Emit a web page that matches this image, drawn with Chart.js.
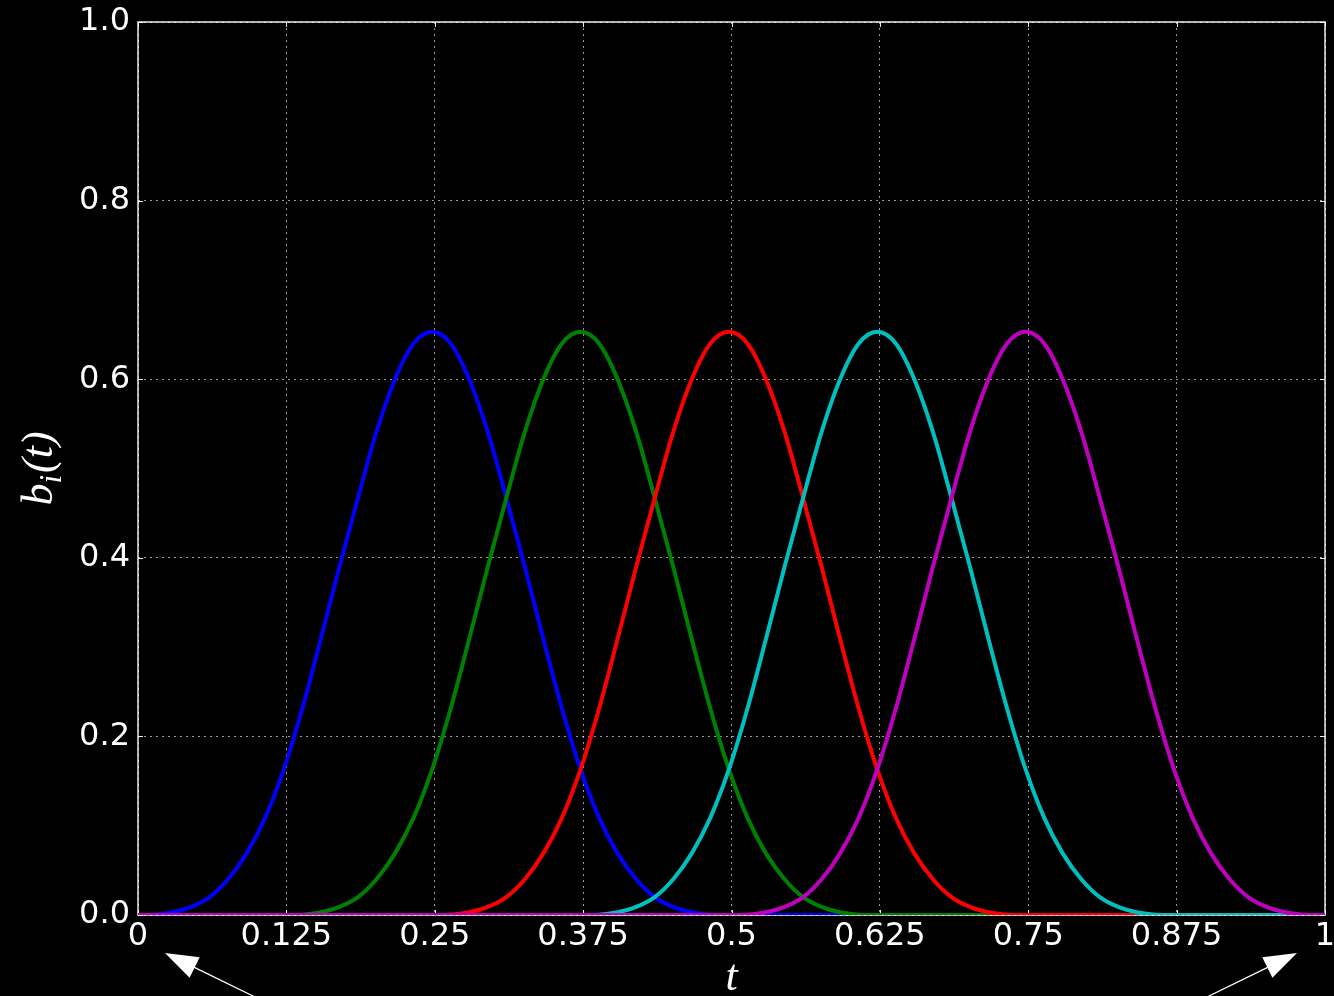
<!DOCTYPE html>
<html>
<head>
<meta charset="utf-8">
<title>B-spline basis functions</title>
<script src="https://cdn.jsdelivr.net/npm/chart.js@4/dist/chart.umd.min.js"></script>
<style>
  html, body { margin: 0; padding: 0; background: #000; overflow: hidden; }
  #wrap { width: 1334px; height: 996px; position: relative; }
</style>
</head>
<body>
<div id="wrap"><canvas id="chart"></canvas></div>
<script>
// Sample positions of the parameter t
const tValues = [
  0, 0.0134, 0.0290, 0.0447, 0.0603, 0.0759, 0.0915, 0.1072,
  0.1228, 0.1384, 0.1540, 0.1697, 0.1853, 0.2009, 0.2165, 0.2322,
  0.2478, 0.2634, 0.2790, 0.2947, 0.3103, 0.3259, 0.3415, 0.3572,
  0.3728, 0.3884, 0.4040, 0.4197, 0.4353, 0.4509, 0.4665, 0.4822,
  0.4978, 0.5134, 0.5290, 0.5447, 0.5603, 0.5759, 0.5915, 0.6072,
  0.6228, 0.6384, 0.6540, 0.6697, 0.6853, 0.7009, 0.7165, 0.7322,
  0.7478, 0.7634, 0.7790, 0.7947, 0.8103, 0.8259, 0.8415, 0.8572,
  0.8728, 0.8884, 0.9040, 0.9197, 0.9353, 0.9509, 0.9665, 0.9822,
  0.9978, 1
];

// Basis function values b_i(t), one array per basis function
const b0 = [
  0, 0.0003, 0.003, 0.009, 0.020, 0.040, 0.069, 0.109,
  0.163, 0.231, 0.309, 0.390, 0.467, 0.541, 0.600, 0.640,
  0.653, 0.640, 0.600, 0.541, 0.467, 0.390, 0.309, 0.231,
  0.163, 0.109, 0.069, 0.040, 0.020, 0.009, 0.003, 0.0003,
  0, 0, 0, 0, 0, 0, 0, 0,
  0, 0, 0, 0, 0, 0, 0, 0,
  0, 0, 0, 0, 0, 0, 0, 0,
  0, 0, 0, 0, 0, 0, 0, 0,
  0, 0
];
const b1 = [
  0, 0, 0, 0, 0, 0, 0, 0,
  0, 0.0003, 0.003, 0.009, 0.020, 0.040, 0.069, 0.109,
  0.163, 0.231, 0.309, 0.390, 0.467, 0.541, 0.600, 0.640,
  0.653, 0.640, 0.600, 0.541, 0.467, 0.390, 0.309, 0.231,
  0.163, 0.109, 0.069, 0.040, 0.020, 0.009, 0.003, 0.0003,
  0, 0, 0, 0, 0, 0, 0, 0,
  0, 0, 0, 0, 0, 0, 0, 0,
  0, 0, 0, 0, 0, 0, 0, 0,
  0, 0
];
const b2 = [
  0, 0, 0, 0, 0, 0, 0, 0,
  0, 0, 0, 0, 0, 0, 0, 0,
  0, 0.0003, 0.003, 0.009, 0.020, 0.040, 0.069, 0.109,
  0.163, 0.231, 0.309, 0.390, 0.467, 0.541, 0.600, 0.640,
  0.653, 0.640, 0.600, 0.541, 0.467, 0.390, 0.309, 0.231,
  0.163, 0.109, 0.069, 0.040, 0.020, 0.009, 0.003, 0.0003,
  0, 0, 0, 0, 0, 0, 0, 0,
  0, 0, 0, 0, 0, 0, 0, 0,
  0, 0
];
const b3 = [
  0, 0, 0, 0, 0, 0, 0, 0,
  0, 0, 0, 0, 0, 0, 0, 0,
  0, 0, 0, 0, 0, 0, 0, 0,
  0, 0.0003, 0.003, 0.009, 0.020, 0.040, 0.069, 0.109,
  0.163, 0.231, 0.309, 0.390, 0.467, 0.541, 0.600, 0.640,
  0.653, 0.640, 0.600, 0.541, 0.467, 0.390, 0.309, 0.231,
  0.163, 0.109, 0.069, 0.040, 0.020, 0.009, 0.003, 0.0003,
  0, 0, 0, 0, 0, 0, 0, 0,
  0, 0
];
const b4 = [
  0, 0, 0, 0, 0, 0, 0, 0,
  0, 0, 0, 0, 0, 0, 0, 0,
  0, 0, 0, 0, 0, 0, 0, 0,
  0, 0, 0, 0, 0, 0, 0, 0,
  0, 0.0003, 0.003, 0.009, 0.020, 0.040, 0.069, 0.109,
  0.163, 0.231, 0.309, 0.390, 0.467, 0.541, 0.600, 0.640,
  0.653, 0.640, 0.600, 0.541, 0.467, 0.390, 0.309, 0.231,
  0.163, 0.109, 0.069, 0.040, 0.020, 0.009, 0.003, 0.0003,
  0, 0
];

const seriesValues = [b0, b1, b2, b3, b4];
const seriesColors = ['#0000ff', '#008000', '#ff0000', '#00bfbf', '#bf00bf'];

// Axis ticks
const xTicks = [0, 0.125, 0.25, 0.375, 0.5, 0.625, 0.75, 0.875, 1];
const xTickLabels = ['0', '0.125', '0.25', '0.375', '0.5', '0.625', '0.75', '0.875', '1'];
const yTicks = [0, 0.2, 0.4, 0.6, 0.8, 1.0];
const yTickLabels = ['0.0', '0.2', '0.4', '0.6', '0.8', '1.0'];

const tickFont = { family: "'DejaVu Sans', sans-serif", size: 32 };
const mathFont = "italic 44px 'Liberation Serif', 'DejaVu Serif', serif";
const mathSubFont = "italic 31px 'Liberation Serif', 'DejaVu Serif', serif";

const datasets = seriesValues.map((vals, i) => ({
  label: 'b' + i,
  data: tValues.map((t, k) => ({ x: t, y: vals[k] })),
  borderColor: seriesColors[i],
  borderWidth: 4,
  pointRadius: 0,
  fill: false,
  cubicInterpolationMode: 'monotone',
  order: seriesValues.length - 1 - i   // later basis functions drawn on top
}));

function zeroPadding(scale) {
  scale.paddingLeft = 0;
  scale.paddingRight = 0;
  scale.paddingTop = 0;
  scale.paddingBottom = 0;
}

// Frame, inward tick marks, axis titles and the two annotation arrows
const decorations = {
  id: 'decorations',
  beforeDraw(chart) {
    const ctx = chart.ctx;
    ctx.save();
    ctx.fillStyle = '#000';
    ctx.fillRect(0, 0, chart.width, chart.height);
    ctx.restore();
  },
  beforeDatasetsDraw(chart) {
    const { ctx, chartArea: a, scales } = chart;
    ctx.save();
    ctx.strokeStyle = 'rgba(255,255,255,0.92)';
    ctx.lineWidth = 1.5;
    ctx.strokeRect(a.left, a.top, a.right - a.left, a.bottom - a.top);
    // inward ticks on all four sides
    ctx.lineWidth = 1;
    const len = 5;
    ctx.beginPath();
    xTicks.forEach(v => {
      const x = Math.round(scales.x.getPixelForValue(v)) + 0.5;
      ctx.moveTo(x, a.bottom); ctx.lineTo(x, a.bottom - len);
      ctx.moveTo(x, a.top); ctx.lineTo(x, a.top + len);
    });
    yTicks.forEach(v => {
      const y = Math.round(scales.y.getPixelForValue(v)) + 0.5;
      ctx.moveTo(a.left, y); ctx.lineTo(a.left + len, y);
      ctx.moveTo(a.right, y); ctx.lineTo(a.right - len, y);
    });
    ctx.stroke();
    ctx.restore();
  },
  afterDraw(chart) {
    const { ctx, chartArea: a } = chart;
    ctx.save();
    ctx.fillStyle = '#fff';

    // x axis title
    ctx.font = mathFont;
    ctx.textAlign = 'center';
    ctx.textBaseline = 'alphabetic';
    ctx.fillText('t', (a.left + a.right) / 2, a.bottom + 75);

    // y axis title b_i(t), rotated
    ctx.translate(52, (a.top + a.bottom) / 2);
    ctx.rotate(-Math.PI / 2);
    ctx.textAlign = 'left';
    ctx.font = mathFont;
    const wB = ctx.measureText('b').width;
    const wP = ctx.measureText('(t)').width;
    ctx.font = mathSubFont;
    const wI = ctx.measureText('i').width + 2;
    const x0 = -(wB + wI + wP) / 2;
    ctx.font = mathFont;
    ctx.fillText('b', x0, 0);
    ctx.font = mathSubFont;
    ctx.fillText('i', x0 + wB, 9);
    ctx.font = mathFont;
    ctx.fillText('(t)', x0 + wB + wI, 0);
    ctx.setTransform(1, 0, 0, 1, 0, 0);

    // annotation arrows pointing at the ends of the t axis
    function arrow(tipX, tipY, dx, dy) {
      const n = Math.hypot(dx, dy);
      const ux = dx / n, uy = dy / n;
      const head = 33, half = 11.5;
      ctx.strokeStyle = '#fff';
      ctx.lineWidth = 1.2;
      ctx.beginPath();
      ctx.moveTo(tipX + ux * head * 0.8, tipY + uy * head * 0.8);
      ctx.lineTo(tipX + ux * 300, tipY + uy * 300);
      ctx.stroke();
      const bx = tipX + ux * head, by = tipY + uy * head;
      ctx.beginPath();
      ctx.moveTo(tipX, tipY);
      ctx.lineTo(bx - uy * half, by + ux * half);
      ctx.lineTo(bx + uy * half, by - ux * half);
      ctx.closePath();
      ctx.fill();
    }
    arrow(a.left + 27, a.bottom + 38, 0.9, 0.44);
    arrow(a.right - 28, a.bottom + 38, -0.9, 0.44);
    ctx.restore();
  }
};

new Chart(document.getElementById('chart'), {
  type: 'line',
  data: { datasets },
  options: {
    responsive: true,
    maintainAspectRatio: false,
    animation: false,
    layout: { padding: { top: 22, right: 9, left: 0, bottom: 0 } },
    plugins: { legend: { display: false }, tooltip: { enabled: false } },
    scales: {
      x: {
        type: 'linear',
        min: 0,
        max: 1,
        afterBuildTicks(scale) { scale.ticks = xTicks.map(v => ({ value: v })); },
        afterFit(scale) { scale.height = 81; zeroPadding(scale); },
        ticks: {
          color: '#fff',
          font: tickFont,
          padding: 2,
          maxRotation: 0,
          autoSkip: false,
          callback: (v, i) => xTickLabels[i]
        },
        grid: {
          color: 'rgba(255,255,255,0.6)',
          lineWidth: 1,
          drawTicks: false
        },
        border: { display: false, dash: [2, 4] }
      },
      y: {
        type: 'linear',
        min: 0,
        max: 1,
        afterBuildTicks(scale) { scale.ticks = yTicks.map(v => ({ value: v })); },
        afterFit(scale) { scale.width = 138; zeroPadding(scale); },
        ticks: {
          color: '#fff',
          font: tickFont,
          padding: 8,
          callback: (v, i) => yTickLabels[i]
        },
        grid: {
          color: 'rgba(255,255,255,0.6)',
          lineWidth: 1,
          drawTicks: false
        },
        border: { display: false, dash: [2, 4] }
      }
    }
  },
  plugins: [decorations]
});
</script>
</body>
</html>
